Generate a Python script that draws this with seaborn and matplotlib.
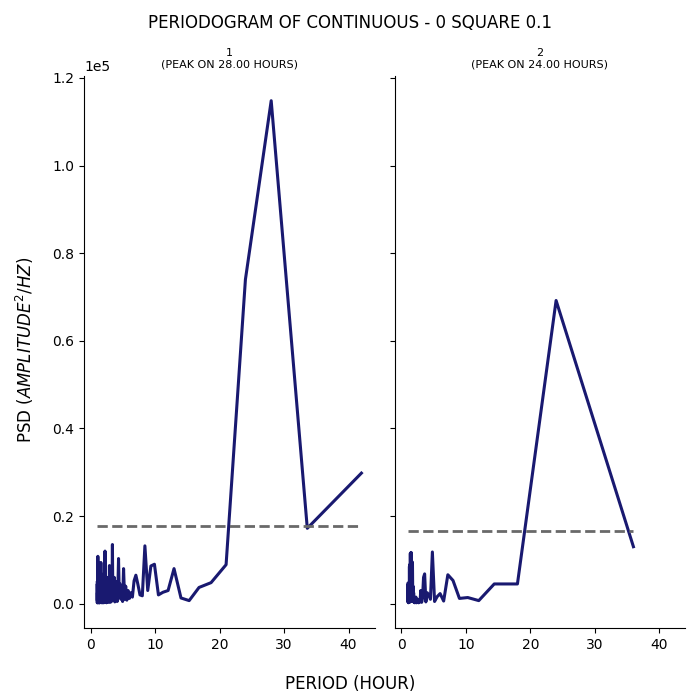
import numpy as np
import pandas as pd
import seaborn as sns
import matplotlib
matplotlib.use("Agg")
import matplotlib.pyplot as plt

panel_titles = ["1\n(PEAK ON 28.00 HOURS)", "2\n(PEAK ON 24.00 HOURS)"]

period_1 = [42.00, 33.60, 28.00, 24.00, 21.00, 18.67, 16.80, 15.27, 14.00, 12.92,
            12.00, 11.20, 10.50, 9.88, 9.33, 8.84, 8.40, 8.00, 7.64, 7.30,
            7.00, 6.72, 6.46, 6.22, 6.00, 5.79, 5.60, 5.42, 5.25, 5.09,
            4.94, 4.80, 4.67, 4.54, 4.42, 4.31, 4.20, 4.10, 4.00, 3.91,
            3.82, 3.73, 3.65, 3.57, 3.50, 3.43, 3.36, 3.29, 3.23, 3.17,
            3.11, 3.05, 3.00, 2.95, 2.90, 2.85, 2.80, 2.75, 2.71, 2.67,
            2.63, 2.58, 2.55, 2.51, 2.47, 2.43, 2.40, 2.37, 2.33, 2.30,
            2.27, 2.24, 2.21, 2.18, 2.15, 2.13, 2.10, 2.07, 2.05, 2.02,
            2.00, 1.98, 1.95, 1.93, 1.91, 1.89, 1.87, 1.85, 1.83, 1.81,
            1.79, 1.77, 1.75, 1.73, 1.71, 1.70, 1.68, 1.66, 1.65, 1.63,
            1.62, 1.60, 1.58, 1.57, 1.55, 1.54, 1.53, 1.51, 1.50, 1.49,
            1.47, 1.46, 1.45, 1.43, 1.42, 1.41, 1.40, 1.39, 1.38, 1.37,
            1.35, 1.34, 1.33, 1.32, 1.31, 1.30, 1.29, 1.28, 1.27, 1.26,
            1.25, 1.24, 1.23, 1.22, 1.21, 1.20, 1.19, 1.18, 1.17, 1.16,
            1.15, 1.14, 1.13, 1.12, 1.11, 1.10, 1.09, 1.08, 1.07, 1.06,
            1.05, 1.04, 1.03, 1.02, 1.01, 1.00]
psd_1 = [29800, 17200, 114800, 74000, 8900, 4800, 3700, 700, 1300, 8000,
         3000, 2600, 2000, 9000, 8600, 3000, 13200, 1800, 2000, 4500,
         6500, 5200, 1500, 2500, 1200, 3000, 800, 4000, 1000, 8000,
         500, 3500, 1000, 4500, 2000, 10300, 3000, 500, 5000, 1200,
         4000, 400, 6000, 1500, 4500, 800, 13500, 2000, 8500, 400,
         5000, 1200, 7000, 300, 8700, 1000, 4500, 400, 5500, 1500,
         3500, 300, 6000, 800, 4000, 200, 5000, 1000, 3000, 400,
         4500, 1200, 12000, 500, 4000, 300, 6000, 1500, 3500, 200,
         4500, 800, 3000, 300, 4000, 1000, 2500, 200, 3500, 600,
         4500, 300, 2500, 800, 3500, 200, 3000, 600, 4000, 300,
         2000, 800, 3000, 9400, 1500, 7000, 400, 3500, 1000, 2500,
         300, 3000, 700, 4500, 300, 2000, 800, 3500, 200, 3000,
         900, 4000, 300, 2500, 600, 5000, 200, 3000, 900, 4500,
         300, 2000, 700, 4000, 300, 3500, 1000, 5500, 300, 2500,
         800, 4500, 200, 3000, 600, 10800, 400, 3500, 800, 5000,
         300, 2500, 700, 4500, 200, 4800]

period_2 = [36.00, 24.00, 18.00, 14.40, 12.00, 10.29, 9.00, 8.00, 7.20, 6.55,
            6.00, 5.54, 5.14, 4.80, 4.50, 4.24, 4.00, 3.79, 3.60, 3.43,
            3.27, 3.13, 3.00, 2.88, 2.77, 2.67, 2.57, 2.48, 2.40, 2.32,
            2.25, 2.18, 2.12, 2.06, 2.00, 1.95, 1.89, 1.85, 1.80, 1.76,
            1.71, 1.67, 1.64, 1.60, 1.57, 1.53, 1.50, 1.47, 1.44, 1.41,
            1.38, 1.36, 1.33, 1.31, 1.29, 1.26, 1.24, 1.22, 1.20, 1.18,
            1.16, 1.14, 1.12, 1.11, 1.09, 1.07, 1.06, 1.04, 1.03, 1.01, 1.00]
psd_2 = [13000, 69200, 4500, 4500, 700, 1400, 1200, 5300, 6600, 600,
         2300, 1600, 500, 11800, 1000, 2000, 2500, 400, 6800, 6000,
         1200, 300, 3000, 400, 1000, 200, 600, 300, 800, 200,
         1500, 400, 600, 200, 1200, 300, 2500, 500, 4000, 800,
         9500, 1000, 6000, 500, 8000, 1200, 11700, 2000, 10000, 500,
         11500, 3000, 9000, 400, 7000, 1000, 8500, 300, 5000, 1200,
         4500, 300, 4000, 800, 3500, 200, 4500, 600, 3000, 400, 4500]

threshold = [17800, 16600]

frames = []
for t, p, v in [(panel_titles[0], period_1, psd_1), (panel_titles[1], period_2, psd_2)]:
    frames.append(pd.DataFrame({"panel": t, "period": p, "psd": v}))
df = pd.concat(frames, ignore_index=True)

plt.rcParams["font.family"] = ["DejaVu Sans"]

g = sns.FacetGrid(df, col="panel", col_order=panel_titles, sharex=True, sharey=True,
                  height=7, aspect=0.5, despine=True)
g.map_dataframe(sns.lineplot, x="period", y="psd", color="midnightblue",
                linewidth=2.2, estimator=None, sort=True)
g.figure.set_size_inches(7, 7)
g.figure.set_dpi(100)

for ax, t, p, thr in zip(g.axes.flat, panel_titles, [period_1, period_2], threshold):
    ax.hlines(thr, min(p), max(p), colors="dimgray", linestyles="--", linewidth=2)
    ax.set_title(t, fontsize=8)
    ax.set_xlabel("")
    ax.set_ylabel("")
    ax.set_xticks([0, 10, 20, 30, 40])
    ax.tick_params(labelsize=10)
    ax.ticklabel_format(axis="y", style="sci", scilimits=(0, 0))

g.figure.subplots_adjust(left=0.12, right=0.979, top=0.892, bottom=0.103, wspace=0.069)
g.figure.suptitle("PERIODOGRAM OF CONTINUOUS - 0 SQUARE 0.1", fontsize=12, y=0.98)
g.figure.supxlabel("PERIOD (HOUR)", fontsize=12, y=0.01)
g.figure.supylabel("PSD ($AMPLITUDE^2/HZ$)", fontsize=12, x=0.02)

g.figure.savefig("out.png", dpi=100)
